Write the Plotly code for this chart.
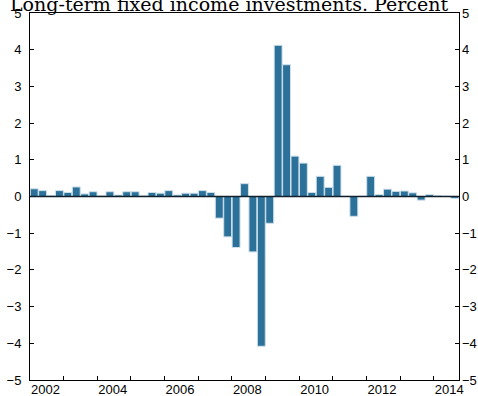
import plotly.graph_objects as go

# Quarterly changes, 2002Q1 - 2014Q3 (percent)
years = list(range(2002, 2015))
quarters = [f"{y}Q{q}" for y in years for q in (1, 2, 3, 4)][:51]
values = [
    0.21, 0.16, 0.03, 0.16, 0.11, 0.26, 0.07, 0.13,   # 2002-2003
    0.02, 0.13, 0.04, 0.13, 0.13, 0.02, 0.11, 0.09,   # 2004-2005
    0.16, 0.04, 0.09, 0.09, 0.16, 0.11, -0.59, -1.10,  # 2006-2007
    -1.39, 0.35, -1.51, -4.08, -0.73, 4.12, 3.59, 1.10,  # 2008-2009
    0.91, 0.11, 0.55, 0.25, 0.85, 0.01, -0.54, 0.01,  # 2010-2011
    0.55, 0.05, 0.20, 0.14, 0.15, 0.10, -0.10, 0.05,  # 2012-2013
    0.02, 0.01, -0.05,                                # 2014
]
label_years = [str(y) for y in years if y % 2 == 0]
y_ticks = list(range(-5, 6))

# numeric position of each quarter: centre of its slot
pos = [i + 0.5 for i in range(len(quarters))]
label_pos = [(int(y) - 2002) * 4 for y in label_years]

W, H = 478, 396
ML, MR, MT, MB = 30, 19, 13, 16
PW = W - ML - MR

TICK_FONT = dict(family="Liberation Sans, Arial, sans-serif", size=13, color="#000000")
BAR_COLOR = "#2b7199"

fig = go.Figure()
fig.add_trace(go.Bar(
    x=pos, y=values, customdata=quarters,
    marker=dict(color=BAR_COLOR, line=dict(color="#cfe0ea", width=1)),
    hovertemplate="%{customdata}: %{y}<extra></extra>",
    showlegend=False,
))
# carrier trace so the right-hand axis is drawn
fig.add_trace(go.Scatter(x=[None], y=[None], yaxis="y2", showlegend=False,
                         hoverinfo="skip"))

fig.update_layout(
    width=W, height=H,
    margin=dict(l=ML, r=MR, t=MT, b=MB, autoexpand=False),
    paper_bgcolor="white", plot_bgcolor="white",
    bargap=0.06,
    xaxis=dict(
        range=[0, len(quarters)], automargin=False,
        tickmode="array", tickvals=label_pos, ticktext=label_years,
        ticks="inside", ticklen=4, tickcolor="#000",
        ticklabelposition="outside right", ticklabelstandoff=-3,
        minor=dict(tickmode="linear", tick0=0, dtick=4, ticks="inside",
                   ticklen=4, tickcolor="#000", showgrid=False),
        showline=True, linecolor="#000", linewidth=1, mirror=True,
        showgrid=False, zeroline=False,
        tickfont=TICK_FONT,
    ),
    yaxis=dict(
        range=[-5, 5], tickvals=y_ticks, automargin=False,
        ticks="inside", ticklen=4, tickcolor="#000", ticklabelstandoff=5,
        showline=True, linecolor="#000", linewidth=1, mirror=True,
        showgrid=False, zeroline=False,
        tickfont=TICK_FONT,
    ),
    yaxis2=dict(
        range=[-5, 5], tickvals=y_ticks, overlaying="y", side="right",
        automargin=False,
        ticks="inside", ticklen=4, tickcolor="#000", ticklabelstandoff=2,
        showline=False, showgrid=False, zeroline=False,
        tickfont=TICK_FONT,
    ),
    shapes=[dict(type="line", xref="paper", yref="y", x0=0, x1=1, y0=0, y1=0,
                 line=dict(color="#10202c", width=1.5), layer="above")],
    annotations=[dict(
        text="Long-term fixed income investments. Percent",
        xref="paper", yref="paper", x=(228.5 - ML) / PW, y=1, yshift=-4,
        xanchor="center", yanchor="bottom", showarrow=False,
        font=dict(family="DejaVu Serif, serif", size=19, color="#000"),
    )],
)

fig.write_html("out.html")
